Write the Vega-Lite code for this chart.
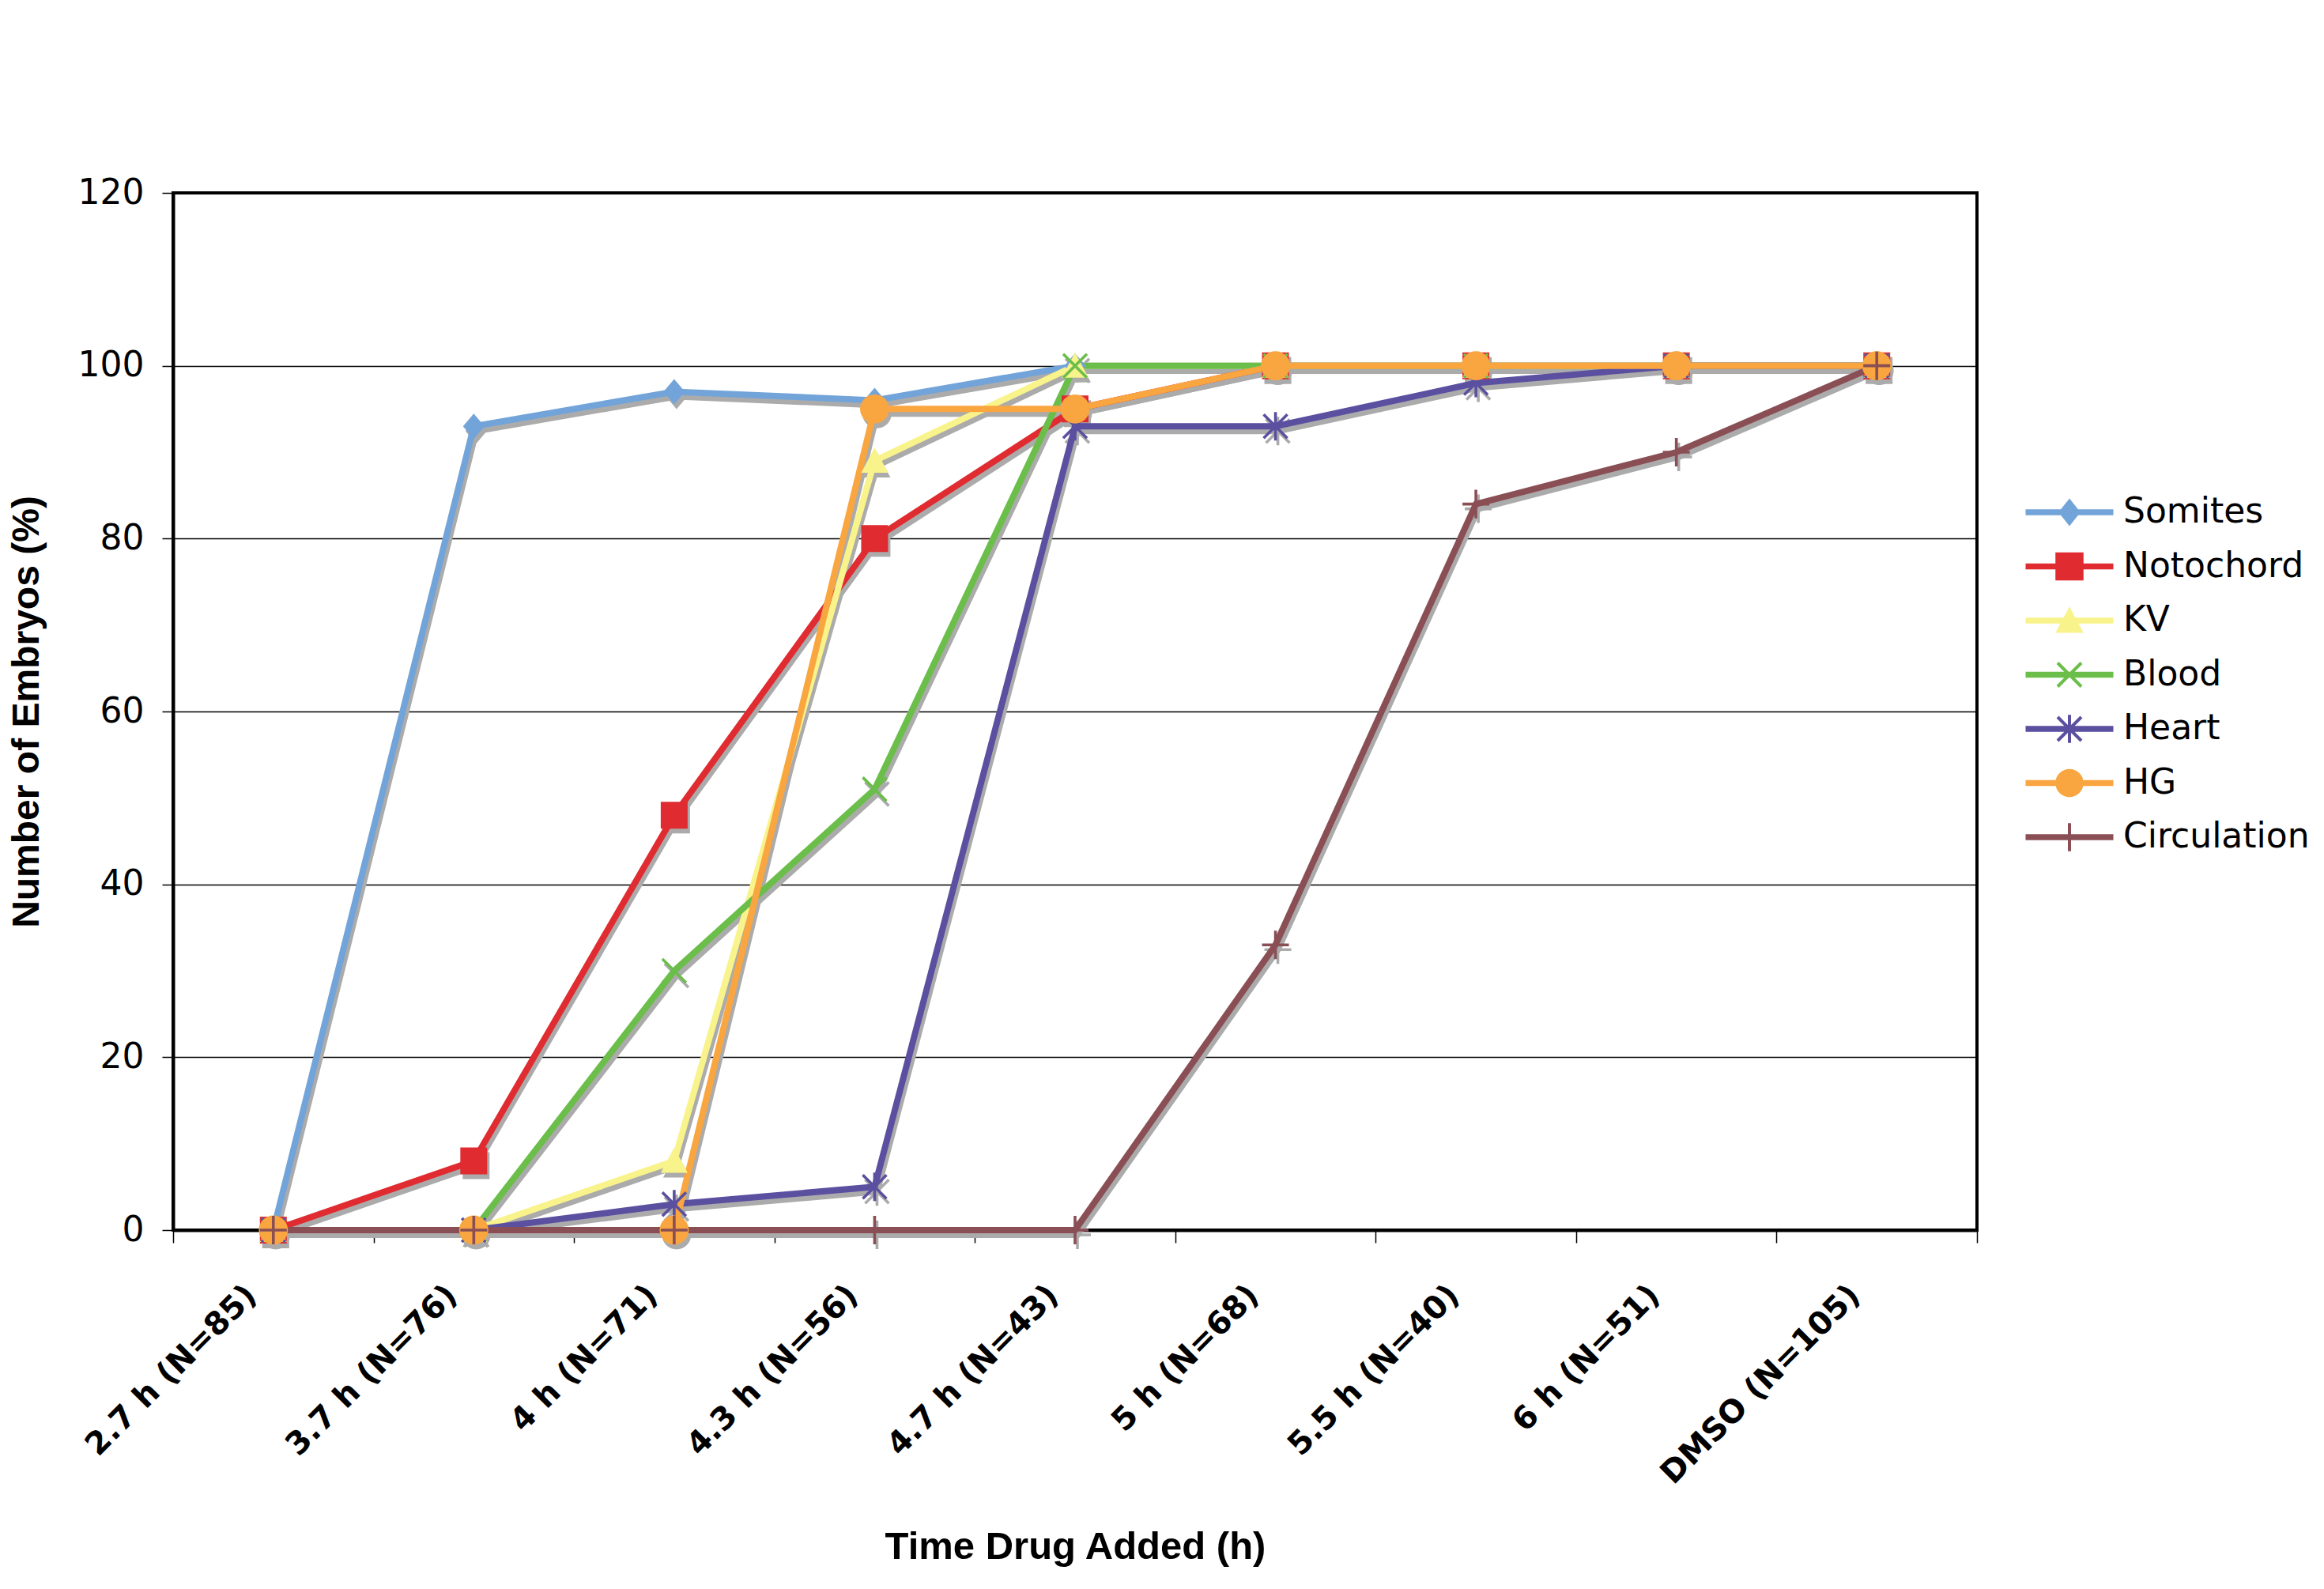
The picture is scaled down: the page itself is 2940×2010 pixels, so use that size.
{
  "$schema": "https://vega.github.io/schema/vega-lite/v6.json",
  "width": 2282,
  "height": 1312,
  "autosize": {"type": "none"},
  "padding": {"left": 219, "top": 244, "right": 439, "bottom": 454},
  "background": "white",
  "config": {
    "view": {"stroke": "black", "strokeWidth": 4},
    "axis": {"labelColor": "black", "titleColor": "black", "tickColor": "black", "domainColor": "black"}
  },
  "data": {
    "values": [
      {"t": "2.7 h (N=85)", "s": "Somites", "v": 0},
      {"t": "3.7 h (N=76)", "s": "Somites", "v": 93},
      {"t": "4 h  (N=71)", "s": "Somites", "v": 97},
      {"t": "4.3 h (N=56)", "s": "Somites", "v": 96},
      {"t": "4.7 h (N=43)", "s": "Somites", "v": 100},
      {"t": "5 h (N=68)", "s": "Somites", "v": 100},
      {"t": "5.5 h (N=40)", "s": "Somites", "v": 100},
      {"t": "6 h (N=51)", "s": "Somites", "v": 100},
      {"t": "DMSO (N=105)", "s": "Somites", "v": 100},
      {"t": "2.7 h (N=85)", "s": "Notochord", "v": 0},
      {"t": "3.7 h (N=76)", "s": "Notochord", "v": 8},
      {"t": "4 h  (N=71)", "s": "Notochord", "v": 48},
      {"t": "4.3 h (N=56)", "s": "Notochord", "v": 80},
      {"t": "4.7 h (N=43)", "s": "Notochord", "v": 95},
      {"t": "5 h (N=68)", "s": "Notochord", "v": 100},
      {"t": "5.5 h (N=40)", "s": "Notochord", "v": 100},
      {"t": "6 h (N=51)", "s": "Notochord", "v": 100},
      {"t": "DMSO (N=105)", "s": "Notochord", "v": 100},
      {"t": "2.7 h (N=85)", "s": "KV", "v": 0},
      {"t": "3.7 h (N=76)", "s": "KV", "v": 0},
      {"t": "4 h  (N=71)", "s": "KV", "v": 8},
      {"t": "4.3 h (N=56)", "s": "KV", "v": 89},
      {"t": "4.7 h (N=43)", "s": "KV", "v": 100},
      {"t": "5 h (N=68)", "s": "KV", "v": 100},
      {"t": "5.5 h (N=40)", "s": "KV", "v": 100},
      {"t": "6 h (N=51)", "s": "KV", "v": 100},
      {"t": "DMSO (N=105)", "s": "KV", "v": 100},
      {"t": "2.7 h (N=85)", "s": "Blood", "v": 0},
      {"t": "3.7 h (N=76)", "s": "Blood", "v": 0},
      {"t": "4 h  (N=71)", "s": "Blood", "v": 30},
      {"t": "4.3 h (N=56)", "s": "Blood", "v": 51},
      {"t": "4.7 h (N=43)", "s": "Blood", "v": 100},
      {"t": "5 h (N=68)", "s": "Blood", "v": 100},
      {"t": "5.5 h (N=40)", "s": "Blood", "v": 100},
      {"t": "6 h (N=51)", "s": "Blood", "v": 100},
      {"t": "DMSO (N=105)", "s": "Blood", "v": 100},
      {"t": "2.7 h (N=85)", "s": "Heart", "v": 0},
      {"t": "3.7 h (N=76)", "s": "Heart", "v": 0},
      {"t": "4 h  (N=71)", "s": "Heart", "v": 3},
      {"t": "4.3 h (N=56)", "s": "Heart", "v": 5},
      {"t": "4.7 h (N=43)", "s": "Heart", "v": 93},
      {"t": "5 h (N=68)", "s": "Heart", "v": 93},
      {"t": "5.5 h (N=40)", "s": "Heart", "v": 98},
      {"t": "6 h (N=51)", "s": "Heart", "v": 100},
      {"t": "DMSO (N=105)", "s": "Heart", "v": 100},
      {"t": "2.7 h (N=85)", "s": "HG", "v": 0},
      {"t": "3.7 h (N=76)", "s": "HG", "v": 0},
      {"t": "4 h  (N=71)", "s": "HG", "v": 0},
      {"t": "4.3 h (N=56)", "s": "HG", "v": 95},
      {"t": "4.7 h (N=43)", "s": "HG", "v": 95},
      {"t": "5 h (N=68)", "s": "HG", "v": 100},
      {"t": "5.5 h (N=40)", "s": "HG", "v": 100},
      {"t": "6 h (N=51)", "s": "HG", "v": 100},
      {"t": "DMSO (N=105)", "s": "HG", "v": 100},
      {"t": "2.7 h (N=85)", "s": "Circulation", "v": 0},
      {"t": "3.7 h (N=76)", "s": "Circulation", "v": 0},
      {"t": "4 h  (N=71)", "s": "Circulation", "v": 0},
      {"t": "4.3 h (N=56)", "s": "Circulation", "v": 0},
      {"t": "4.7 h (N=43)", "s": "Circulation", "v": 0},
      {"t": "5 h (N=68)", "s": "Circulation", "v": 33},
      {"t": "5.5 h (N=40)", "s": "Circulation", "v": 84},
      {"t": "6 h (N=51)", "s": "Circulation", "v": 90},
      {"t": "DMSO (N=105)", "s": "Circulation", "v": 100}
    ]
  },
  "encoding": {
    "x": {
      "field": "t",
      "type": "nominal",
      "bandPosition": 0.5,
      "scale": {
        "type": "band",
        "paddingInner": 0,
        "paddingOuter": 0,
        "domain": ["2.7 h (N=85)", "3.7 h (N=76)", "4 h  (N=71)", "4.3 h (N=56)", "4.7 h (N=43)", "5 h (N=68)", "5.5 h (N=40)", "6 h (N=51)", "DMSO (N=105)"]
      },
      "axis": {
        "title": "Time Drug Added (h)",
        "tickBand": "extent",
        "labelAngle": -45,
        "labelAlign": "right",
        "labelBaseline": "middle",
        "labelFont": "DejaVu Sans",
        "labelFontWeight": "bold",
        "labelFontSize": 40,
        "labelPadding": 60,
        "labelOffset": -28,
        "labelLimit": 1000,
        "tickSize": 16,
        "tickWidth": 1.5,
        "domainWidth": 4,
        "grid": false,
        "titleFont": "Liberation Sans",
        "titleFontSize": 49,
        "titleFontWeight": "bold",
        "titleY": 415,
        "titleBaseline": "alphabetic"
      }
    },
    "y": {
      "field": "v",
      "type": "quantitative",
      "scale": {"domain": [0, 120], "nice": false},
      "axis": {
        "title": "Number of Embryos (%)",
        "values": [0, 20, 40, 60, 80, 100, 120],
        "grid": true,
        "gridColor": "black",
        "gridWidth": 1.5,
        "tickSize": 14,
        "tickWidth": 1.5,
        "domainWidth": 4,
        "labelFont": "DejaVu Sans",
        "labelFontSize": 44,
        "labelPadding": 23,
        "titleFont": "Liberation Sans",
        "titleFontSize": 48,
        "titleFontWeight": "bold",
        "titleAngle": -90,
        "titleX": -185,
        "titleY": 656,
        "titleAlign": "center",
        "titleBaseline": "middle"
      }
    }
  },
  "resolve": {"scale": {"color": "independent", "shape": "independent"}},
  "layer": [
    {
      "mark": {"type": "line", "color": "#ababab", "strokeWidth": 8, "xOffset": 3, "yOffset": 6},
      "encoding": {"detail": {"field": "s"}}
    },
    {
      "mark": {"type": "point", "filled": true, "color": "#ababab", "size": 1600, "opacity": 1, "strokeWidth": 0, "xOffset": 3, "yOffset": 6},
      "encoding": {
        "shape": {
          "field": "s",
          "legend": null,
          "scale": {
            "domain": ["Somites", "Notochord", "KV", "Blood", "Heart", "HG", "Circulation"],
            "range": [
              "M0,-0.8L0.68,0L0,0.8L-0.68,0Z",
              "M-0.85,-0.85H0.85V0.85H-0.85Z",
              "M0,-0.85L0.85,0.75H-0.85Z",
              "M-0.686,-0.814L0.814,0.686L0.686,0.814L-0.814,-0.686Z M-0.686,0.814L-0.814,0.686L0.686,-0.814L0.814,-0.686Z",
              "M-0.686,-0.814L0.814,0.686L0.686,0.814L-0.814,-0.686Z M-0.686,0.814L-0.814,0.686L0.686,-0.814L0.814,-0.686Z M-0.09,-0.9L0.09,-0.9L0.09,0.9L-0.09,0.9Z",
              "M-0.92,0A0.92,0.92 0 1,1 0.92,0A0.92,0.92 0 1,1 -0.92,0Z",
              "M-0.85,-0.09L0.85,-0.09L0.85,0.09L-0.85,0.09Z M-0.09,-0.9L0.09,-0.9L0.09,0.9L-0.09,0.9Z"
            ]
          }
        }
      }
    },
    {
      "mark": {"type": "line", "strokeWidth": 8},
      "encoding": {
        "color": {
          "field": "s",
          "type": "nominal",
          "legend": null,
          "scale": {
            "domain": ["Somites", "Notochord", "KV", "Blood", "Heart", "HG", "Circulation"],
            "range": ["#72A4D9", "#E02B30", "#F9F38B", "#6BBE4A", "#5B4FA0", "#F9A641", "#8A4F55"]
          }
        }
      }
    },
    {
      "mark": {"type": "point", "filled": true, "size": 1600, "opacity": 1, "strokeWidth": 0},
      "encoding": {
        "color": {
          "field": "s",
          "type": "nominal",
          "legend": null,
          "scale": {
            "domain": ["Somites", "Notochord", "KV", "Blood", "Heart", "HG", "Circulation"],
            "range": ["#72A4D9", "#E02B30", "#F9F38B", "#6BBE4A", "#5B4FA0", "#F9A641", "#8A4F55"]
          }
        },
        "shape": {
          "field": "s",
          "legend": null,
          "scale": {
            "domain": ["Somites", "Notochord", "KV", "Blood", "Heart", "HG", "Circulation"],
            "range": [
              "M0,-0.8L0.68,0L0,0.8L-0.68,0Z",
              "M-0.85,-0.85H0.85V0.85H-0.85Z",
              "M0,-0.85L0.85,0.75H-0.85Z",
              "M-0.686,-0.814L0.814,0.686L0.686,0.814L-0.814,-0.686Z M-0.686,0.814L-0.814,0.686L0.686,-0.814L0.814,-0.686Z",
              "M-0.686,-0.814L0.814,0.686L0.686,0.814L-0.814,-0.686Z M-0.686,0.814L-0.814,0.686L0.686,-0.814L0.814,-0.686Z M-0.09,-0.9L0.09,-0.9L0.09,0.9L-0.09,0.9Z",
              "M-0.92,0A0.92,0.92 0 1,1 0.92,0A0.92,0.92 0 1,1 -0.92,0Z",
              "M-0.85,-0.09L0.85,-0.09L0.85,0.09L-0.85,0.09Z M-0.09,-0.9L0.09,-0.9L0.09,0.9L-0.09,0.9Z"
            ]
          }
        }
      }
    },
    {
      "transform": [{"filter": "false"}],
      "mark": {"type": "point", "filled": true, "size": 1600, "opacity": 1, "strokeWidth": 0},
      "encoding": {
        "color": {
          "field": "s",
          "type": "nominal",
          "scale": {
            "domain": ["Somites", "Notochord", "KV", "Blood", "Heart", "HG", "Circulation"],
            "range": ["#72A4D9", "#E02B30", "#F9F38B", "#6BBE4A", "#5B4FA0", "#F9A641", "#8A4F55"]
          },
          "legend": {
            "title": null,
            "orient": "none",
            "legendX": 2377,
            "legendY": 382,
            "padding": 0,
            "symbolSize": 1600,
            "symbolStrokeWidth": 0,
            "symbolOpacity": 1,
            "labelOffset": 46,
            "rowPadding": 24.5,
            "labelFont": "DejaVu Sans",
            "labelFontSize": 44,
            "labelColor": "black",
            "labelLimit": 1000
          }
        },
        "shape": {
          "field": "s",
          "scale": {
            "domain": ["Somites", "Notochord", "KV", "Blood", "Heart", "HG", "Circulation"],
            "range": [
              "M-2.775,-0.19H2.775V0.19H-2.775Z M0,-0.874L0.694,0L0,0.874L-0.694,0Z",
              "M-2.775,-0.19H2.775V0.19H-2.775Z M-0.888,-0.888H0.888V0.888H-0.888Z",
              "M-2.775,-0.19H2.775V0.19H-2.775Z M0,-0.888L0.888,0.777H-0.888Z",
              "M-2.775,-0.19H2.775V0.19H-2.775Z M-0.6785,-0.82L0.82,0.6785L0.6785,0.82L-0.82,-0.6785Z M-0.6785,0.82L-0.82,0.6785L0.6785,-0.82L0.82,-0.6785Z",
              "M-2.775,-0.19H2.775V0.19H-2.775Z M-0.6785,-0.82L0.82,0.6785L0.6785,0.82L-0.82,-0.6785Z M-0.6785,0.82L-0.82,0.6785L0.6785,-0.82L0.82,-0.6785Z M-0.1,-0.888L0.1,-0.888L0.1,0.888L-0.1,0.888Z",
              "M-2.775,-0.19H2.775V0.19H-2.775Z M-0.888,0A0.888,0.888 0 1,1 0.888,0A0.888,0.888 0 1,1 -0.888,0Z",
              "M-2.775,-0.19H2.775V0.19H-2.775Z M-0.1,-0.888L0.1,-0.888L0.1,0.888L-0.1,0.888Z"
            ]
          },
          "legend": {
            "title": null,
            "orient": "none",
            "legendX": 2377,
            "legendY": 382,
            "padding": 0,
            "symbolSize": 1600,
            "symbolStrokeWidth": 0,
            "symbolOpacity": 1,
            "labelOffset": 46,
            "rowPadding": 24.5,
            "labelFont": "DejaVu Sans",
            "labelFontSize": 44,
            "labelColor": "black",
            "labelLimit": 1000
          }
        }
      }
    }
  ]
}
